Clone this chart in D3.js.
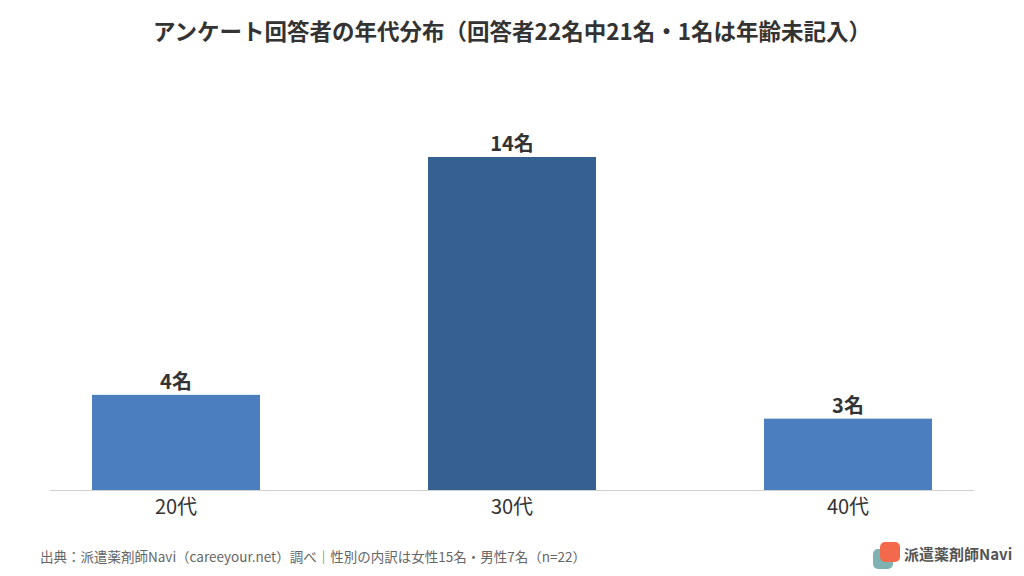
<!DOCTYPE html><html><head><meta charset="utf-8">
<script src="https://cdn.jsdelivr.net/npm/d3@7"></script>
<style>body{margin:0;background:#fff}text{font-family:"Noto Sans CJK JP","Noto Sans",sans-serif}</style></head><body>
<svg id="c" width="1024" height="576"></svg>
<script>
const categories=["20代","30代","40代"];
const values=[4,14,3];
const labels=["4名","14名","3名"];
const colors=["#4a7ebf","#365f92","#4a7ebf"];
const svg=d3.select("#c");
svg.append("rect").attr("width",1024).attr("height",576).attr("fill","#fff");
const x=d3.scaleBand().domain(categories).range([50,974]).paddingInner(0.5).paddingOuter(0.125);
const y=d3.scaleLinear().domain([0,14]).range([490,157]);
svg.selectAll(".b").data(values).join("rect").attr("x",(d,i)=>x(categories[i])).attr("width",x.bandwidth())
 .attr("y",d=>y(d)).attr("height",d=>490-y(d)).attr("fill",(d,i)=>colors[i]);
svg.append("line").attr("x1",50).attr("x2",974).attr("y1",490.5).attr("y2",490.5).attr("stroke","#d0d0d0");
svg.selectAll(".l").data(values).join("text").attr("x",(d,i)=>x(categories[i])+x.bandwidth()/2).attr("y",d=>y(d)-6)
 .attr("text-anchor","middle").attr("font-size",20).attr("font-weight","bold").attr("fill","#333").text((d,i)=>labels[i]);
const ax=svg.append("g").attr("transform","translate(0,490)").call(d3.axisBottom(x).tickSize(0).tickPadding(10));
ax.select(".domain").remove();
ax.selectAll("text").attr("font-size",20).attr("fill","#333").style("font-family","Noto Sans CJK JP");
svg.append("text").attr("x",512).attr("y",40).attr("text-anchor","middle").attr("font-size",22.5).attr("font-weight","bold").attr("fill","#333")
 .text("アンケート回答者の年代分布（回答者22名中21名・1名は年齢未記入）");
svg.append("text").attr("x",40).attr("y",562).attr("font-size",13.5).attr("fill","#666")
 .text("出典：派遣薬剤師Navi（careeyour.net）調べ｜性別の内訳は女性15名・男性7名（n=22）");
svg.append("rect").attr("x",873).attr("y",549).attr("width",20).attr("height",20).attr("rx",5).attr("fill","#7fb3b3");
svg.append("rect").attr("x",880).attr("y",542).attr("width",20).attr("height",20).attr("rx",5).attr("fill","#f26a4b");
svg.append("text").attr("x",904).attr("y",560).attr("font-size",15).attr("font-weight","bold").attr("fill","#555").text("派遣薬剤師Navi");
</script></body></html>
